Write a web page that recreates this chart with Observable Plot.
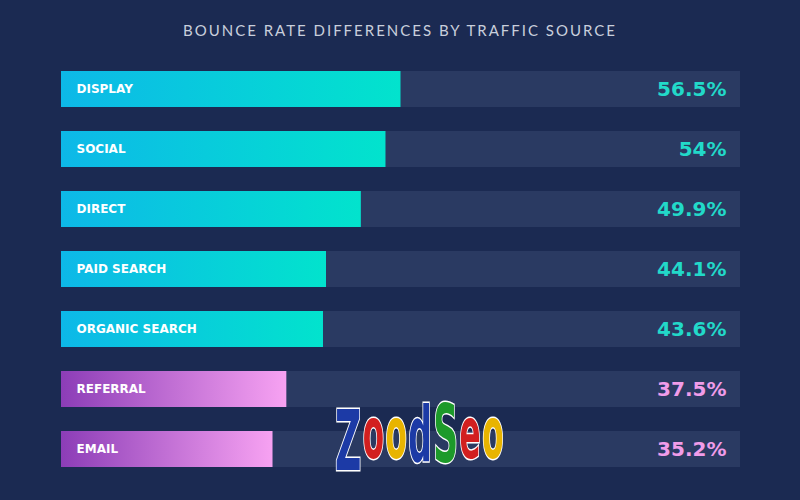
<!DOCTYPE html>
<html>
<head>
<meta charset="utf-8">
<script src="https://cdn.jsdelivr.net/npm/d3@7"></script>
<script src="https://cdn.jsdelivr.net/npm/@observablehq/plot@0.6"></script>
<style>
  html, body { margin: 0; padding: 0; background: #1b2a52; width: 800px; height: 500px; overflow: hidden; position: relative; }
  #title { height: 59px; line-height: 60px; text-align: center; color: #c9cfdc; font-family: "Lato", sans-serif; font-size: 15px; letter-spacing: 2px; }
  #chart svg { display: block; }
  #wm { position: absolute; left: 0; top: 0; }
</style>
</head>
<body>
<div id="title">BOUNCE RATE DIFFERENCES BY TRAFFIC SOURCE</div>
<div id="chart"></div>
<svg id="wm" width="800" height="500">
  <g font-family="DejaVu Sans Condensed, DejaVu Sans, sans-serif" font-weight="bold" stroke="#ffffff" stroke-width="3" paint-order="stroke" transform="translate(335,0) scale(0.48,1)">
    <text x="0" y="470" font-size="84"><tspan fill="#1c3aa6">Z</tspan><tspan fill="#d21f1f" font-size="72" dy="-12" dx="3">o</tspan><tspan fill="#e8b400" font-size="72" dx="3">o</tspan><tspan fill="#1c3aa6" font-size="76" dx="3" dy="3">d</tspan><tspan fill="#1d9a2a" font-size="80" dx="3" dy="1">S</tspan><tspan fill="#d21f1f" font-size="72" dx="3" dy="-4">e</tspan><tspan fill="#e8b400" font-size="72" dx="3">o</tspan></text>
  </g>
</svg>
<script>
const sources = ["DISPLAY", "SOCIAL", "DIRECT", "PAID SEARCH", "ORGANIC SEARCH", "REFERRAL", "EMAIL"];
const bounceRates = [56.5, 54, 49.9, 44.1, 43.6, 37.5, 35.2];
const groups = ["blue", "blue", "blue", "blue", "blue", "pink", "pink"];
const valueLabels = ["56.5%", "54%", "49.9%", "44.1%", "43.6%", "37.5%", "35.2%"];
const trackMax = 113;

const data = sources.map((s, i) => ({source: s, value: bounceRates[i], group: groups[i], label: valueLabels[i]}));
const blue = data.filter(d => d.group === "blue");
const pink = data.filter(d => d.group === "pink");

const chart = Plot.plot({
  width: 800,
  height: 441,
  marginLeft: 61,
  marginRight: 60,
  marginTop: 0,
  marginBottom: 21,
  style: {background: "transparent"},
  x: {domain: [0, trackMax], axis: null},
  y: {domain: sources, axis: null, paddingInner: 0.4, paddingOuter: 0.2},
  marks: [
    Plot.barX(data, {y: "source", x1: 0, x2: trackMax, fill: "#2a3a62"}),
    Plot.barX(blue, {y: "source", x: "value", fill: "url(#gBlue)"}),
    Plot.barX(pink, {y: "source", x: "value", fill: "url(#gPink)"}),
    Plot.text(data, {y: "source", x: 0, text: "source", textAnchor: "start", dx: 15, fill: "#ffffff", fontWeight: "bold", fontSize: 12, fontFamily: "DejaVu Sans, sans-serif", style: {letterSpacing: "0.6px"}}),
    Plot.text(blue, {y: "source", x: trackMax, text: "label", textAnchor: "end", dx: -14, fill: "#22d9c9", fontWeight: "bold", fontSize: 20, fontFamily: "DejaVu Sans, sans-serif"}),
    Plot.text(pink, {y: "source", x: trackMax, text: "label", textAnchor: "end", dx: -14, fill: "#f09ce9", fontWeight: "bold", fontSize: 20, fontFamily: "DejaVu Sans, sans-serif"})
  ]
});

const defs = d3.select(chart).insert("defs", ":first-child");
const gb = defs.append("linearGradient").attr("id", "gBlue").attr("x1", "0").attr("x2", "1").attr("y1", "0").attr("y2", "0");
gb.append("stop").attr("offset", "0").attr("stop-color", "#0db8e8");
gb.append("stop").attr("offset", "1").attr("stop-color", "#02e3cd");
const gp = defs.append("linearGradient").attr("id", "gPink").attr("x1", "0").attr("x2", "1").attr("y1", "0").attr("y2", "0");
gp.append("stop").attr("offset", "0").attr("stop-color", "#8c3db7");
gp.append("stop").attr("offset", "1").attr("stop-color", "#f7a2f2");

document.getElementById("chart").appendChild(chart);
</script>
</body>
</html>
